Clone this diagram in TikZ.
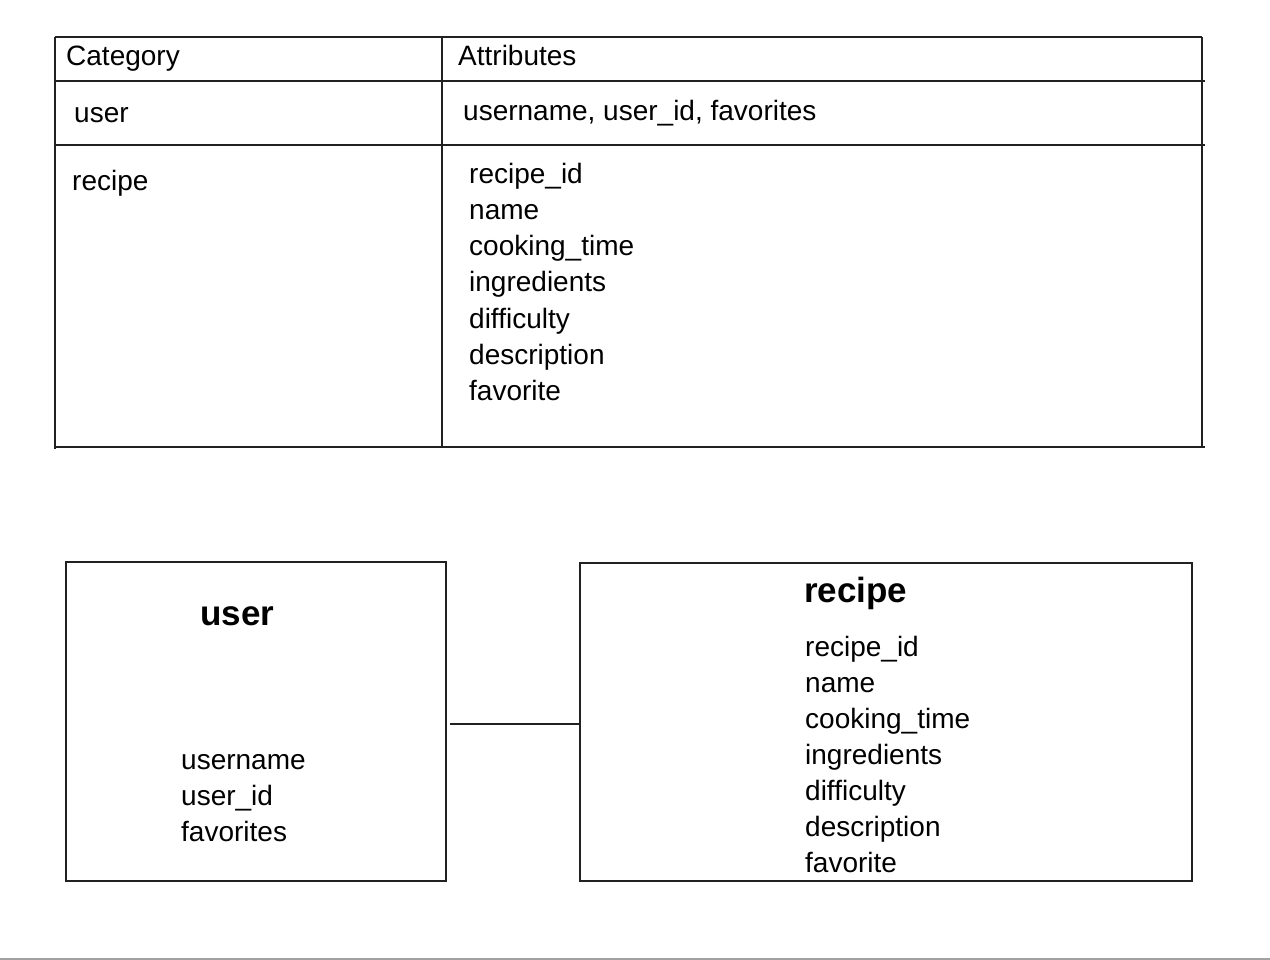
\documentclass[tikz,border=0pt]{standalone}
\usepackage{fontspec}
\setmainfont{Liberation Sans}
\usetikzlibrary{positioning}

\begin{document}
\begin{tikzpicture}[
    x=1pt, y=-1pt,
    rule/.style={draw=black!87, line width=2.2pt},
    cell/.style={anchor=base west, inner sep=0pt, font=\fontsize{28}{36}\selectfont},
    field/.style={anchor=base west, inner sep=0pt, font=\fontsize{28}{36}\selectfont},
    title/.style={anchor=base west, inner sep=0pt, font=\fontsize{35}{40}\selectfont\bfseries},
    entity/.style={rectangle, draw=black!87, line width=2.2pt, inner sep=0pt}
]
    \useasboundingbox (0,0) rectangle (1270,960);

    % Table grid
    \draw[rule] (55,37) -- (1202,37);
    \draw[rule] (55,81) -- (1205,81);
    \draw[rule] (55,145) -- (1205,145);
    \draw[rule] (55,447) -- (1205,447);
    \draw[rule] (55,37) -- (55,449);
    \draw[rule] (442,37) -- (442,446);
    \draw[rule] (1202,37) -- (1202,447);

    % Table text
    \node[cell] (hcat) at (66,66) {Category};
    \node[cell] (hattr) at (458,66) {Attributes};
    \node[cell] (cuser) at (74,123) {user};
    \node[cell] (auser) at (463,121) {username, user\_id, favorites};
    \node[cell] (crecipe) at (72,191) {recipe};
    \foreach \t [count=\i] in {recipe\_id, name, cooking\_time, ingredients, difficulty, description, favorite}
        \node[field] (ar\i) at (469,{184+36*(\i-1)}) {\t};

    % Entities
    \node[entity, minimum width=380pt, minimum height=319pt] (userbox) at (256,721.5) {};
    \node[entity, minimum width=612pt, minimum height=318pt] (recipebox) at (886,722) {};

    \node[title] (usertitle) at (200,625) {user};
    \foreach \t [count=\i] in {username, user\_id, favorites}
        \node[field] (uf\i) at (181,{769+36*(\i-1)}) {\t};

    \node[title] (recipetitle) at (804,602) {recipe};
    \foreach \t [count=\i] in {recipe\_id, name, cooking\_time, ingredients, difficulty, description, favorite}
        \node[field] (rf\i) at (805,{656+36*(\i-1)}) {\t};

    % Relationship
    \coordinate (link) at ([xshift=3pt]userbox.east |- 0,724);
    \draw[rule] (link) -- (link -| recipebox.west);

    % Bottom edge
    \draw[draw=black!37, line width=3pt] (0,959) -- (1270,959);
\end{tikzpicture}
\end{document}
